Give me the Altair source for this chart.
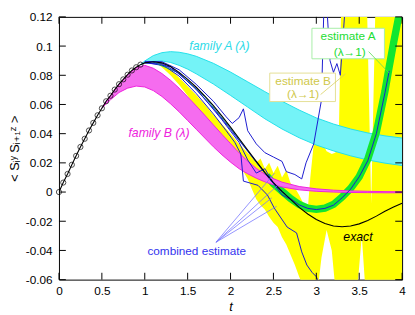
import altair as alt
import pandas as pd

# ---------------- data ----------------
x_ticks = [0, 0.5, 1, 1.5, 2, 2.5, 3, 3.5, 4]
y_ticks = [-0.06, -0.04, -0.02, 0, 0.02, 0.04, 0.06, 0.08, 0.1, 0.12]

exact_t = [0.0, 0.05, 0.1, 0.15, 0.2, 0.25, 0.3, 0.35, 0.4, 0.45, 0.5, 0.55, 0.6, 0.65, 0.7, 0.75, 0.8, 0.85, 0.9, 0.95,
           1.0, 1.1, 1.2, 1.3, 1.4, 1.5, 1.6, 1.7, 1.8, 1.9, 2.0, 2.1, 2.2, 2.3, 2.4, 2.5, 2.6, 2.7, 2.8, 2.9,
           3.0, 3.1, 3.2, 3.3, 3.4, 3.5, 3.6, 3.7, 3.8, 3.9, 4.0]
exact_v = [0.0, 0.0065, 0.0124, 0.0187, 0.0248, 0.0309, 0.0365, 0.0422, 0.0474, 0.0526, 0.0574, 0.0622, 0.066, 0.0702,
           0.0739, 0.0772, 0.0804, 0.0833, 0.0855, 0.0873,
           0.0885, 0.0893, 0.0885, 0.086, 0.082, 0.0772, 0.0718, 0.0658, 0.0592, 0.052,
           0.0445, 0.0367, 0.0288, 0.021, 0.0135, 0.0065, 0.0005, -0.005, -0.0105, -0.015,
           -0.0188, -0.0215, -0.0232, -0.0238, -0.0233, -0.0218, -0.0195, -0.0165, -0.0132, -0.0103, -0.0076]

circle_t = [0.0, 0.05, 0.1, 0.15, 0.2, 0.25, 0.3, 0.35, 0.4, 0.45, 0.5, 0.55, 0.6, 0.65, 0.7, 0.75, 0.8, 0.85, 0.9, 0.95]
circle_v = [0.0, 0.0065, 0.0124, 0.0187, 0.0248, 0.0309, 0.0365, 0.0422, 0.0474, 0.0526, 0.0574, 0.0622, 0.066, 0.0702,
            0.0739, 0.0772, 0.0804, 0.0833, 0.0855, 0.0873]

famA_t = [0.95, 1.0, 1.1, 1.2, 1.3, 1.4, 1.5, 1.6, 1.8, 2.0, 2.2, 2.4, 2.6, 2.8, 3.0, 3.2, 3.4, 3.6, 3.8, 4.0]
famA_hi = [0.0873, 0.0898, 0.0935, 0.0955, 0.0962, 0.0958, 0.0947, 0.093, 0.0882, 0.0822, 0.0755, 0.0688, 0.0622,
           0.0562, 0.0508, 0.0466, 0.0432, 0.0405, 0.0385, 0.037]
famA_lo = [0.0873, 0.0885, 0.0895, 0.0898, 0.0888, 0.0868, 0.0842, 0.081, 0.074, 0.0662, 0.0582, 0.0502, 0.0432,
           0.0372, 0.0322, 0.0282, 0.0248, 0.022, 0.0198, 0.0182]

famB_t = [0.5, 0.55, 0.6, 0.7, 0.8, 0.9, 1.0, 1.1, 1.2, 1.3, 1.4, 1.5, 1.6, 1.7, 1.8, 1.9, 2.0, 2.1, 2.2, 2.3, 2.4,
          2.5, 2.6, 2.8, 3.0, 3.2, 3.4, 3.6, 3.8, 4.0]
famB_hi = [0.0574, 0.0622, 0.066, 0.0739, 0.0804, 0.0852, 0.0868, 0.0848, 0.0812, 0.0766, 0.0712, 0.0652, 0.059,
           0.0526, 0.046, 0.0395, 0.0332, 0.0268, 0.0212, 0.0162, 0.0122, 0.0092, 0.0068, 0.0038, 0.0022, 0.0013,
           0.0008, 0.0005, 0.0003, 0.0002]
famB_lo = [0.0574, 0.0605, 0.0632, 0.0682, 0.0712, 0.0726, 0.072, 0.0695, 0.0655, 0.0605, 0.055, 0.049, 0.043,
           0.037, 0.031, 0.0255, 0.0205, 0.016, 0.0125, 0.0095, 0.007, 0.005, 0.0035, 0.0015, 0.0005, 0.0,
           -0.0003, -0.0004, -0.0005, -0.0005]

yel_t = [1.15, 1.2, 1.3, 1.4, 1.5, 1.6, 1.7, 1.8, 1.9, 2.0,
         2.1, 2.2, 2.25, 2.3, 2.35, 2.4, 2.45, 2.5, 2.55, 2.6,
         2.65, 2.7, 2.75, 2.8, 2.85, 2.9, 2.93, 2.97, 3.02, 3.06,
         3.12, 3.18, 3.22, 3.26, 3.29, 3.35, 3.42, 3.48, 3.53, 3.57,
         3.59, 3.64, 3.69, 3.75, 3.85, 3.95, 4.0]
yel_lo = [0.0878, 0.0855, 0.080, 0.0735, 0.066, 0.058, 0.050, 0.042, 0.034, 0.027,
          0.019, 0.009, 0.002, -0.005, -0.009, -0.012, -0.017, -0.021, -0.024, -0.031,
          -0.036, -0.043, -0.05, -0.058, -0.065, -0.065, -0.065, -0.065, -0.065, -0.045,
          -0.026, -0.04, -0.065, -0.065, -0.065, -0.065, -0.065, -0.065, -0.03, -0.065,
          -0.065, -0.065, -0.065, -0.065, -0.065, -0.065, -0.065]
yel_hi = [0.089, 0.0875, 0.084, 0.0785, 0.0725, 0.0665, 0.060, 0.053, 0.0465, 0.040,
          0.033, 0.027, 0.024, 0.020, 0.023, 0.016, 0.020, 0.013, 0.018, 0.010,
          0.015, 0.006, 0.003, -0.002, -0.008, -0.012, 0.01, 0.033, 0.037, 0.035,
          0.028, 0.026, 0.027, 0.03, 0.13, 0.13, 0.13, 0.13, 0.13, 0.13,
          0.13, -0.008, 0.13, 0.13, 0.13, 0.13, 0.13]

green_t = [2.42, 2.5, 2.6, 2.7, 2.8, 2.9, 3.0, 3.1, 3.2, 3.3, 3.4, 3.5, 3.6, 3.7, 3.8, 3.85, 3.9, 3.96, 3.99]
green_v = [0.0112, 0.0058, 0.0005, -0.0045, -0.0085, -0.011, -0.0118, -0.011, -0.0085, -0.0035, 0.0025,
           0.0105, 0.0225, 0.041, 0.069, 0.086, 0.102, 0.12, 0.13]

blue_c_t = [1.0, 1.2, 1.4, 1.6, 1.8, 2.0, 2.2, 2.4, 2.5, 2.6, 2.7, 2.8, 2.9, 3.0, 3.1, 3.2, 3.3, 3.4, 3.5, 3.6, 3.7, 3.8, 3.85]
blue_c_v = [0.0888, 0.0882, 0.0812, 0.0702, 0.0572, 0.0428, 0.028, 0.0128, 0.0058, 0.0, -0.0045, -0.0088, -0.0112,
            -0.012, -0.0112, -0.009, -0.004, 0.002, 0.0105, 0.0215, 0.040, 0.068, 0.083]
blue_u_t = [1.0, 1.2, 1.4, 1.6, 1.8, 1.95, 2.02, 2.1, 2.15, 2.2, 2.3, 2.4, 2.5, 2.6, 2.65, 2.75, 2.83, 2.88, 2.97,
            3.06, 3.09, 3.12, 3.16, 3.2, 3.24, 3.28, 3.34]
blue_u_v = [0.0895, 0.0893, 0.0838, 0.0738, 0.0622, 0.0515, 0.047, 0.051, 0.057, 0.042, 0.033, 0.027, 0.024, 0.021,
            0.014, 0.012, 0.009, 0.02, 0.033, 0.063, 0.13, 0.13, 0.09, 0.082, 0.088, 0.08, 0.13]
blue_l_t = [1.0, 1.2, 1.4, 1.6, 1.8, 1.95, 2.05, 2.12, 2.15, 2.32, 2.43, 2.51, 2.66, 2.77, 2.83, 2.89, 2.95, 3.0, 3.05]
blue_l_v = [0.0885, 0.0875, 0.0795, 0.0675, 0.0535, 0.042, 0.034, 0.026, 0.0075, 0.0046, -0.002, -0.011, -0.024,
            -0.028, -0.041, -0.05, -0.055, -0.058, -0.065]
blue_m_t = [1.0, 1.3, 1.6, 1.9, 2.1, 2.2, 2.3, 2.4, 2.5, 2.6, 2.7]
blue_m_v = [0.0888, 0.0858, 0.0708, 0.0495, 0.034, 0.022, 0.013, 0.016, 0.006, -0.002, -0.005]
teal_t = [1.1, 1.4, 1.7, 2.0, 2.3, 2.5, 2.65]
teal_v = [0.089, 0.0815, 0.0652, 0.0436, 0.0205, 0.006, -0.002]

# annotation texts and their anchor points (data coordinates)
italic_labels = ["family A (\u03bb)", "family B (\u03bb)", "exact"]
italic_t = [1.87, 1.166, 3.486]
italic_v = [0.0998, 0.0401, -0.0307]
italic_col = ["#2edbe8", "#ee22dd", "#000000"]

plain_labels = ["estimate A", "(\u03bb\u21921)", "estimate B", "(\u03bb\u21921)", "combined estimate"]
plain_t = [3.37, 3.39, 2.846, 2.846, 1.606]
plain_v = [0.1066, 0.0962, 0.0757, 0.0668, -0.0402]
plain_col = ["#22dd33", "#22dd33", "#cfc84a", "#cfc84a", "#3333ee"]

box_t1 = [2.949, 2.457]
box_t2 = [3.794, 3.223]
box_v1 = [0.1122, 0.0815]
box_v2 = [0.0913, 0.062]
box_col = ["#a6eea6", "#e4df95"]

lead_t1 = [3.61, 3.05, 1.83, 1.83, 1.83, 1.83]
lead_v1 = [0.0962, 0.0668, -0.0344, -0.0344, -0.0344, -0.0344]
lead_t2 = [3.85, 3.34, 2.514, 2.549, 2.48, 2.537]
lead_v2 = [0.0815, 0.081, 0.013, 0.0046, -0.004, -0.0098]
lead_col = ["#55dd55", "#d8d060", "#7777ff", "#7777ff", "#7777ff", "#7777ff"]

# ---------------- chart ----------------
FONT = "Liberation Sans, Arial, DejaVu Sans, sans-serif"
W, H = 350, 268
xs = alt.Scale(domain=[0, 4], nice=False, zero=False)
ys = alt.Scale(domain=[-0.06, 0.12], nice=False, zero=False)

xaxis = alt.Axis(values=x_ticks, labelExpr="toString(datum.value)", ticks=False, tickSize=0, domain=False,
                 grid=False, labelFlush=False, labelOverlap=False, labelPadding=6, labelFontSize=12,
                 labelFont=FONT, labelColor="black", title="t", titleFont=FONT, titleFontSize=13,
                 titleFontStyle="italic", titleFontWeight="normal", titleColor="black", titlePadding=5)
yaxis = alt.Axis(values=y_ticks, labelExpr="toString(round(datum.value*100)/100)", ticks=False, tickSize=0,
                 domain=False, grid=False, labelFlush=False, labelOverlap=False, labelPadding=7, labelFontSize=12,
                 labelFont=FONT, labelColor="black",
                 title="< S\u1d62\u02b8 S\u1d62\u208a\u2081\u1dbb >", titleFont=FONT, titleFontSize=13,
                 titleFontWeight="normal", titleColor="black", titlePadding=4)


def X(f="t"):
    return alt.X(f"{f}:Q", scale=xs, axis=xaxis)


def Y(f="v"):
    return alt.Y(f"{f}:Q", scale=ys, axis=yaxis)


def line_layer(ts, vs, color, width=1.0):
    return alt.Chart(pd.DataFrame({"t": ts, "v": vs})).mark_line(
        color=color, strokeWidth=width, clip=True).encode(x=X(), y=Y())


def band_layers(ts, lo, hi, fill, edge):
    df = pd.DataFrame({"t": ts, "lo": lo, "hi": hi})
    base = alt.Chart(df)
    area = base.mark_area(color=fill, clip=True).encode(x=X(), y=Y("hi"), y2="lo:Q")
    e1 = base.mark_line(color=edge, strokeWidth=1, clip=True).encode(x=X(), y=Y("hi"))
    e2 = base.mark_line(color=edge, strokeWidth=1, clip=True).encode(x=X(), y=Y("lo"))
    return [area, e1, e2]


yellow = alt.Chart(pd.DataFrame({"t": yel_t, "lo": yel_lo, "hi": yel_hi})).mark_area(
    color="#ffff00", clip=True).encode(x=X(), y=Y("hi"), y2="lo:Q")

famA = band_layers(famA_t, famA_lo, famA_hi, "#74f3f7", "#22e0ea")
famB = band_layers(famB_t, famB_lo, famB_hi, "#f56cef", "#ee22dd")

green = line_layer(green_t, green_v, "#12e630", 7.5)
blues = [line_layer(blue_u_t, blue_u_v, "#1a1ad0"), line_layer(blue_l_t, blue_l_v, "#1a1ad0"),
         line_layer(blue_m_t, blue_m_v, "#1a1ad0"), line_layer(teal_t, teal_v, "#008c8c"),
         line_layer(blue_c_t, blue_c_v, "#1a1ad0")]
exact = line_layer(exact_t, exact_v, "#000000", 1.1)
circles = alt.Chart(pd.DataFrame({"t": circle_t, "v": circle_v})).mark_point(
    shape="circle", size=28, color="#000000", filled=False, strokeWidth=1).encode(x=X(), y=Y())

boxes = alt.Chart(pd.DataFrame({"t1": box_t1, "t2": box_t2, "v1": box_v1, "v2": box_v2, "col": box_col})).mark_rect(
    fill="white", strokeWidth=1).encode(x=X("t1"), x2="t2:Q", y=Y("v1"), y2="v2:Q",
                                        stroke=alt.Color("col:N", scale=None))
leaders = alt.Chart(pd.DataFrame({"t1": lead_t1, "t2": lead_t2, "v1": lead_v1, "v2": lead_v2,
                                  "col": lead_col})).mark_rule(strokeWidth=0.8).encode(
    x=X("t1"), x2="t2:Q", y=Y("v1"), y2="v2:Q", color=alt.Color("col:N", scale=None))

txt_it = alt.Chart(pd.DataFrame({"t": italic_t, "v": italic_v, "label": italic_labels, "col": italic_col})).mark_text(
    font=FONT, fontSize=12.5, fontStyle="italic", align="center", baseline="middle").encode(
    x=X(), y=Y(), text="label:N", color=alt.Color("col:N", scale=None))
txt_pl = alt.Chart(pd.DataFrame({"t": plain_t, "v": plain_v, "label": plain_labels, "col": plain_col})).mark_text(
    font=FONT, fontSize=12, align="center", baseline="middle").encode(
    x=X(), y=Y(), text="label:N", color=alt.Color("col:N", scale=None))

ytk = alt.Chart(pd.DataFrame({"v": y_ticks}))
xtk = alt.Chart(pd.DataFrame({"t": x_ticks}))
ticks = [
    ytk.mark_rule(color="black").encode(y=Y(), x=alt.value(0), x2=alt.value(7)),
    ytk.mark_rule(color="black").encode(y=Y(), x=alt.value(W - 7), x2=alt.value(W)),
    xtk.mark_rule(color="black").encode(x=X(), y=alt.value(H), y2=alt.value(H - 7)),
    xtk.mark_rule(color="black").encode(x=X(), y=alt.value(0), y2=alt.value(7)),
]

layers = [yellow] + famA + [green] + famB + blues + [exact, circles, boxes, leaders, txt_it, txt_pl] + ticks

chart = alt.layer(*layers).properties(
    width=W, height=H,
    autosize=alt.AutoSizeParams(type="none"),
    padding={"left": 52, "top": 6, "right": 5, "bottom": 33},
).configure_view(stroke="black", strokeWidth=1)

chart.save("out.html", embed_options={"renderer": "svg", "actions": False})
